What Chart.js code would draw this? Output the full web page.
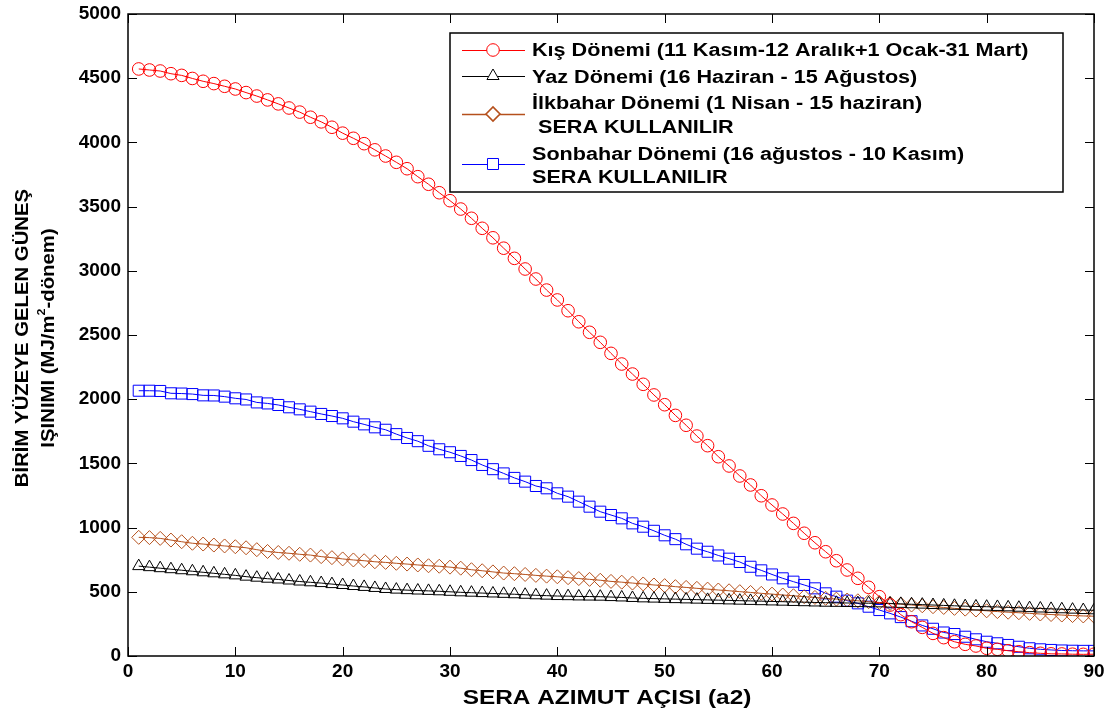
<!DOCTYPE html>
<html>
<head>
<meta charset="utf-8">
<script src="https://cdn.jsdelivr.net/npm/chart.js@4/dist/chart.umd.min.js"></script>
<style>
  body { margin: 0; background: #fff; }
  canvas { display: block; }
</style>
</head>
<body>
<canvas id="chartLine" width="1118" height="717"></canvas>
<script>
// azimuth angles 1..90 degrees
const angles = Array.from({ length: 90 }, (_, i) => i + 1);

const kis = [4572, 4564, 4556, 4535, 4522, 4498, 4476, 4458, 4437, 4416,
  4388, 4361, 4331, 4300, 4268, 4236, 4196, 4160, 4118, 4072,
  4032, 3990, 3942, 3894, 3845, 3795, 3733, 3674, 3608, 3546,
  3481, 3409, 3331, 3257, 3176, 3097, 3014, 2936, 2850, 2773,
  2689, 2603, 2521, 2443, 2357, 2274, 2196, 2116, 2033, 1957,
  1874, 1797, 1713, 1638, 1552, 1480, 1402, 1332, 1248, 1176,
  1106, 1033, 956, 882, 812, 742, 670, 605, 535, 462,
  397, 322, 267, 223, 176, 143, 111, 91, 78, 60,
  52, 41, 33, 26, 21, 17, 16, 14, 13, 14];

const yaz = [700, 692, 684, 676, 668, 660, 652, 644, 636, 628,
  618, 610, 602, 596, 588, 580, 574, 568, 560, 553,
  545, 538, 530, 522, 517, 513, 510, 507, 504, 500,
  496, 493, 490, 487, 484, 481, 477, 473, 470, 467,
  466, 464, 463, 462, 459, 456, 452, 449, 447, 445,
  443, 441, 439, 437, 435, 433, 431, 429, 427, 425,
  423, 421, 419, 417, 415, 414, 413, 412, 411, 410,
  408, 406, 403, 400, 397, 394, 391, 388, 386, 384,
  382, 379, 376, 373, 370, 367, 364, 361, 358, 356];

const ilkbahar = [924, 922, 916, 903, 890, 878, 872, 864, 857, 851,
  843, 828, 814, 806, 800, 792, 786, 774, 766, 756,
  748, 742, 734, 729, 722, 716, 709, 703, 699, 692,
  684, 672, 664, 655, 646, 641, 635, 628, 622, 617,
  610, 603, 597, 590, 581, 575, 568, 561, 553, 548,
  540, 534, 527, 521, 514, 508, 501, 495, 488, 482,
  475, 469, 462, 456, 449, 443, 436, 430, 423, 417,
  410, 404, 397, 391, 384, 378, 371, 365, 358, 352,
  346, 341, 337, 332, 327, 323, 319, 315, 312, 310];

const sonbahar = [2066, 2066, 2064, 2046, 2044, 2040, 2030, 2029, 2020, 2007,
  1998, 1975, 1967, 1955, 1937, 1921, 1903, 1885, 1869, 1851,
  1825, 1804, 1781, 1762, 1728, 1698, 1673, 1637, 1610, 1587,
  1558, 1526, 1488, 1455, 1422, 1387, 1358, 1324, 1306, 1267,
  1241, 1202, 1163, 1124, 1098, 1072, 1033, 1007, 975, 940,
  910, 870, 836, 812, 783, 758, 732, 695, 667, 635,
  605, 579, 553, 527, 488, 462, 431, 410, 384, 358,
  332, 303, 271, 238, 212, 183, 171, 150, 130, 111,
  99, 86, 72, 60, 52, 47, 43, 41, 40, 40];

const legendLines = [
  ["Kış Dönemi (11 Kasım-12 Aralık+1 Ocak-31 Mart)"],
  ["Yaz Dönemi (16 Haziran - 15 Ağustos)"],
  ["İlkbahar Dönemi (1 Nisan - 15 haziran)", " SERA KULLANILIR"],
  ["Sonbahar Dönemi (16 ağustos - 10 Kasım)", "SERA KULLANILIR"]
];

const FONT = "'Liberation Sans', Arial, sans-serif";

function pts(values) {
  return values.map((v, i) => ({ x: angles[i], y: v }));
}

function series(label, values, color, style, radius) {
  return {
    label: label,
    data: pts(values),
    borderColor: color,
    borderWidth: 1,
    backgroundColor: "rgba(0,0,0,0)",
    pointStyle: style,
    pointRadius: radius,
    pointBorderColor: color,
    pointBackgroundColor: "rgba(0,0,0,0)",
    pointBorderWidth: 1,
    tension: 0
  };
}

const datasets = [
  series(legendLines[0][0], kis, "#ff0000", "circle", 6.3),
  series(legendLines[1][0], yaz, "#000000", "triangle", 7),
  series(legendLines[2][0], ilkbahar, "#b5501c", "rectRot", 7),
  series(legendLines[3][0], sonbahar, "#0000ff", "rect", 7.8)
];

// text drawn a bit wider than the font's natural width
function wideText(ctx, txt, x, y, sx) {
  ctx.save();
  ctx.translate(x, y);
  ctx.scale(sx, 1);
  ctx.fillText(txt, 0, 0);
  ctx.restore();
}

// axes box, inward ticks, axis titles and the boxed legend
const decorations = {
  id: "decorations",
  afterDraw(chart) {
    const ctx = chart.ctx;
    const a = chart.chartArea;
    const xs = chart.scales.x, ys = chart.scales.y;
    const tl = 9;
    ctx.save();
    ctx.strokeStyle = "#000";
    ctx.lineWidth = 1.5;
    ctx.strokeRect(a.left, a.top, a.right - a.left, a.bottom - a.top);
    ctx.lineWidth = 1;
    ctx.beginPath();
    xs.ticks.forEach(t => {
      const px = Math.round(xs.getPixelForValue(t.value)) + 0.5;
      ctx.moveTo(px, a.bottom); ctx.lineTo(px, a.bottom - tl);
      ctx.moveTo(px, a.top); ctx.lineTo(px, a.top + tl);
    });
    ys.ticks.forEach(t => {
      const py = Math.round(ys.getPixelForValue(t.value)) + 0.5;
      ctx.moveTo(a.left, py); ctx.lineTo(a.left + tl, py);
      ctx.moveTo(a.right, py); ctx.lineTo(a.right - tl, py);
    });
    ctx.stroke();

    // x title
    ctx.fillStyle = "#000";
    ctx.font = "bold 20px " + FONT;
    ctx.textAlign = "center";
    ctx.textBaseline = "middle";
    wideText(ctx, "SERA AZIMUT AÇISI (a2)", (a.left + a.right) / 2 - 4, 698, 1.22);

    // y title, two rotated lines
    ctx.save();
    ctx.translate(23, 338);
    ctx.rotate(-Math.PI / 2);
    ctx.font = "bold 18px " + FONT;
    wideText(ctx, "BİRİM YÜZEYE GELEN GÜNEŞ", 0, 0, 1.13);
    ctx.restore();

    ctx.save();
    ctx.translate(49, 338);
    ctx.rotate(-Math.PI / 2);
    ctx.scale(1.13, 1);
    const big = "bold 18px " + FONT, small = "bold 11px " + FONT;
    const p1 = "IŞINIMI (MJ/m", p2 = "2", p3 = "-dönem)";
    ctx.font = big;
    const w1 = ctx.measureText(p1).width, w3 = ctx.measureText(p3).width;
    ctx.font = small;
    const w2 = ctx.measureText(p2).width;
    const x0 = -(w1 + w2 + w3) / 2;
    ctx.textAlign = "left";
    ctx.font = big;
    ctx.fillText(p1, x0, 0);
    ctx.font = small;
    ctx.fillText(p2, x0 + w1, -7);
    ctx.font = big;
    ctx.fillText(p3, x0 + w1 + w2, 0);
    ctx.restore();

    // legend
    const box = { l: 450, t: 33, r: 1063, b: 192 };
    ctx.fillStyle = "#fff";
    ctx.fillRect(box.l, box.t, box.r - box.l, box.b - box.t);
    ctx.strokeStyle = "#000";
    ctx.lineWidth = 1.5;
    ctx.strokeRect(box.l, box.t, box.r - box.l, box.b - box.t);

    const rows = [
      { line: 50, text: [51] },
      { line: 76, text: [78] },
      { line: 114, text: [104, 128] },
      { line: 164, text: [155, 178] }
    ];
    rows.forEach((row, i) => {
      const ds = chart.data.datasets[i];
      ctx.strokeStyle = ds.borderColor;
      ctx.lineWidth = i === 2 ? 1.6 : 1;
      ctx.beginPath();
      ctx.moveTo(462, row.line + 0.5);
      ctx.lineTo(525, row.line + 0.5);
      ctx.stroke();
      ctx.fillStyle = "#fff";
      Chart.helpers.drawPoint(ctx, {
        pointStyle: ds.pointStyle,
        radius: ds.pointRadius,
        borderWidth: 1,
        rotation: 0
      }, 493, row.line);
      ctx.fillStyle = "#000";
      ctx.font = "bold 18px " + FONT;
      ctx.textAlign = "left";
      ctx.textBaseline = "middle";
      legendLines[i].forEach((txt, j) => wideText(ctx, txt, 532, row.text[j], 1.2));
    });
    ctx.restore();
  }
};

const tickFont = { family: FONT, size: 19, weight: "bold" };

new Chart(document.getElementById("chartLine"), {
  type: "line",
  data: { datasets: datasets },
  options: {
    responsive: false,
    animation: false,
    layout: { padding: { top: 14, right: 24, left: 0, bottom: 0 } },
    plugins: { legend: { display: false }, tooltip: { enabled: false } },
    scales: {
      x: {
        type: "linear", min: 0, max: 90,
        ticks: { stepSize: 10, padding: 4, color: "#000", font: tickFont, maxRotation: 0,
          callback: v => String(v) },
        grid: { display: false, drawTicks: false },
        border: { display: false },
        afterFit: s => { s.height = 61; }
      },
      y: {
        min: 0, max: 5000,
        ticks: { stepSize: 500, padding: 7, color: "#000", font: tickFont,
          callback: v => String(v) },
        grid: { display: false, drawTicks: false },
        border: { display: false },
        afterFit: s => { s.width = 128; s.paddingTop = 0; s.paddingBottom = 0; }
      }
    }
  },
  plugins: [decorations]
});
</script>
</body>
</html>
